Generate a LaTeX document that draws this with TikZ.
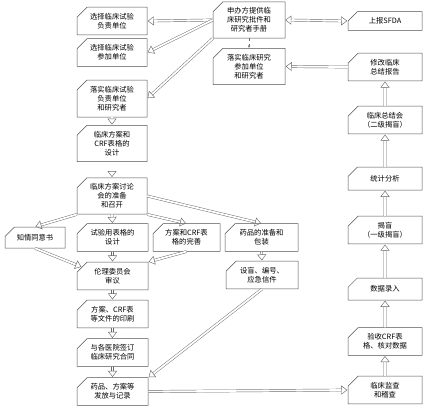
\documentclass[tikz,border=0pt]{standalone}
\usepackage{fontspec}
\newfontfamily\cjk{Noto Sans CJK SC}
\usepackage{tikz}
\usetikzlibrary{shapes.misc,arrows.meta}
\definecolor{boxline}{HTML}{505050}
\definecolor{arrowline}{HTML}{6A6A6A}

\begin{document}
\begin{tikzpicture}[x=1pt, y=-1pt,
  every node/.style={font=\cjk\fontsize{7.3}{8.8}\selectfont, align=center, inner sep=1pt},
  stepbox/.style={chamfered rectangle, chamfered rectangle corners=north west,
    chamfered rectangle xsep=5pt, chamfered rectangle ysep=5pt,
    draw=boxline, line width=0.5pt, fill=white, minimum width=#1},
  stepbox/.default=70pt,
  dbl/.style={draw=arrowline, line width=0.45pt, double=white, double distance=1.8pt,
    -{Triangle[open, length=6pt, width=9pt]}, shorten >=0.5pt},
  thinarr/.style={draw=arrowline, line width=0.5pt, dashed, -{Stealth[length=3pt]}}]
  \useasboundingbox (0,0) rectangle (433,416);
  % left column
  \node[stepbox, minimum height=22pt] (fuze) at (112,21) {选择临床试验\\负责单位};
  \node[stepbox, minimum height=21pt] (canjia) at (112,52.5) {选择临床试验\\参加单位};
  \node[stepbox, minimum height=37pt] (luoshi) at (112,98.5) {落实临床试验\\负责单位\\和研究者};
  \node[stepbox, minimum height=31pt] (sheji) at (112,143.5) {临床方案和\\CRF表格的\\设计};
  \node[stepbox, minimum height=28pt] (taolun) at (112,196) {临床方案讨论\\会的准备\\和召开};
  \node[stepbox=60pt, minimum height=21pt] (zhiqing) at (35,237.5) {知情同意书};
  \node[stepbox=71pt, minimum height=21pt] (biaoge) at (112.5,237.5) {试验用表格的\\设计};
  \node[stepbox=67pt, minimum height=21pt] (wanshan) at (186.5,237.5) {方案和CRF表\\格的完善};
  \node[stepbox=73pt, minimum height=21pt] (yaopin) at (261.5,237.5) {药品的准备和\\包装};
  \node[stepbox=71pt, minimum height=22pt] (lunli) at (112.5,276) {伦理委员会\\审议};
  \node[stepbox=72pt, minimum height=23pt] (shemang) at (262,275) {设盲、编号、\\应急信件};
  \node[stepbox=71pt, minimum height=22pt] (yinshua) at (112.5,314) {方案、CRF表\\等文件的印刷};
  \node[stepbox=71pt, minimum height=21pt] (hetong) at (112.5,352.5) {与各医院签订\\临床研究合同};
  \node[stepbox=71pt, minimum height=23pt] (fafang) at (112.5,391.5) {药品、方案等\\发放与记录};
  % right part
  \node[stepbox=72pt, minimum height=34pt] (shenban) at (249,20) {申办方提供临\\床研究批件和\\研究者手册};
  \node[stepbox=74pt, minimum height=18pt] (sfda) at (385,21) {上报SFDA};
  \node[stepbox=72pt, minimum height=33pt] (canjiayj) at (249,66.5) {落实临床研究\\参加单位\\和研究者};
  \node[stepbox=74pt, minimum height=22pt] (xiugai) at (385,67) {修改临床\\总结报告};
  \node[stepbox=74pt, minimum height=24pt] (zongjie) at (385,120) {临床总结会\\（二级揭盲）};
  \node[stepbox=74pt, minimum height=23pt] (tongji) at (385,178.5) {统计分析};
  \node[stepbox=74pt, minimum height=24pt] (jiemang) at (385,230) {揭盲\\（一级揭盲）};
  \node[stepbox=74pt, minimum height=22pt] (luru) at (385,289) {数据录入};
  \node[stepbox=74pt, minimum height=23pt] (yanshou) at (385,341.5) {验收CRF表\\格、核对数据};
  \node[stepbox=74pt, minimum height=24pt] (jiancha) at (385,390) {临床监查\\和稽查};

  % connectors
  \draw[dbl] (shenban.west) -- (fuze.east);
  \draw[dbl] (shenban.west) -- (canjia.east);
  \draw[dbl] (shenban.south west) -- (luoshi.east);
  \draw[dbl, {Triangle[open, length=6pt, width=9pt]}-{Triangle[open, length=6pt, width=9pt]}] (shenban.east) -- (sfda.west);
  \draw[thinarr] (shenban.south) -- (canjiayj.north);
  \draw[dbl] (xiugai.west) -- (canjiayj.east);
  \draw[dbl] (luoshi.south) -- (sheji.north);
  \draw[dbl] (sheji.south) -- (taolun.north);
  \draw[dbl] (taolun.south west) -- (zhiqing.north);
  \draw[dbl] (taolun.south) -- (biaoge.north);
  \draw[dbl] (taolun.south east) -- (wanshan.north);
  \draw[dbl] (taolun.east) -- (yaopin.north);
  \draw[dbl] (zhiqing.south) -- (lunli.north west);
  \draw[dbl] (biaoge.south) -- (lunli.north);
  \draw[dbl] (wanshan.south) -- (lunli.north east);
  \draw[dbl] (yaopin.south) -- (shemang.north);
  \draw[dbl] (lunli.south) -- (yinshua.north);
  \draw[dbl] (yinshua.south) -- (hetong.north);
  \draw[dbl] (hetong.south) -- (fafang.north);
  \draw[dbl] (shemang.south) -- (fafang.north east);
  \draw[dbl] (fafang.east) -- (jiancha.west);
  % right column, upwards
  \draw[dbl] (jiancha) -- (yanshou);
  \draw[dbl] (yanshou) -- (luru);
  \draw[dbl] (luru) -- (jiemang);
  \draw[dbl] (jiemang) -- (tongji);
  \draw[dbl] (tongji) -- (zongjie);
  \draw[dbl] (zongjie) -- (xiugai);
\end{tikzpicture}
\end{document}
